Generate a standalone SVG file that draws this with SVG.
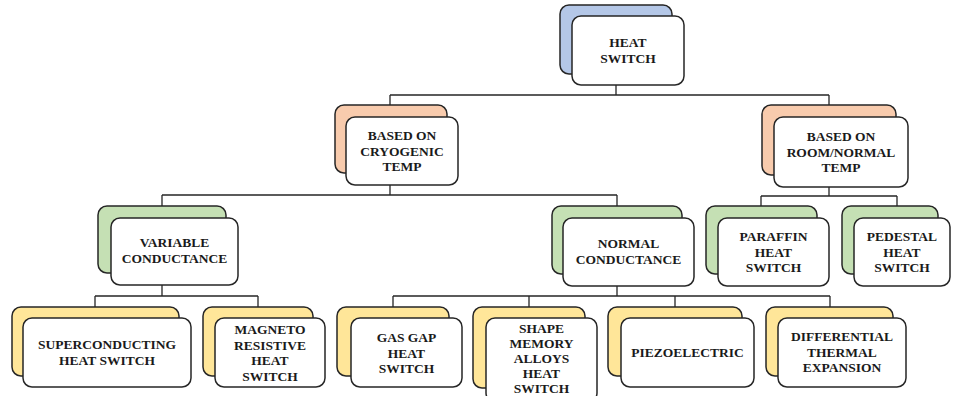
<svg xmlns="http://www.w3.org/2000/svg" width="953" height="396" viewBox="0 0 953 396">
<style>
.n rect{stroke:#262626;stroke-width:1.5}
.f{fill:#fff}
.b{fill:#b4c7e7}
.o{fill:#f8cbad}
.g{fill:#c5e0b4}
.y{fill:#ffe699}
.t{font-weight:bold;font-size:13.5px;fill:#1a1a1a;text-anchor:middle}
.c path{fill:none;stroke:#262626;stroke-width:1.3}
</style>
<rect width="953" height="396" fill="#fff"/>
<g class="c" id="connectors">
<path d="M616 85V95M390 95H829M390 95V105M829 95V105"/>
<path d="M390 185V195M162 195H617M162 195V206M617 195V206"/>
<path d="M829 187V196M761 196H897M761 196V206M897 196V206"/>
<path d="M162 285V296M95 296H258M95 296V307M258 296V307"/>
<path d="M617 286V296M393 296H830M393 296V307M529 296V307M675 296V307M830 296V307"/>
</g>
<g class="t" font-family="Liberation Serif, DejaVu Serif, serif">
<g class="n" id="heat-switch"><rect class="b" x="560" y="5" width="112" height="69" rx="9"/><rect class="f" x="572" y="16" width="112" height="69" rx="9"/><text><tspan x="628" y="47">HEAT</tspan><tspan x="628" y="63">SWITCH</tspan></text></g>
<g class="n" id="cryogenic"><rect class="o" x="335" y="105" width="112" height="68" rx="9"/><rect class="f" x="346" y="117" width="112" height="68" rx="9"/><text><tspan x="402" y="140">BASED ON</tspan><tspan x="402" y="155.5">CRYOGENIC</tspan><tspan x="402" y="171">TEMP</tspan></text></g>
<g class="n" id="room-temp"><rect class="o" x="762" y="105" width="134" height="70" rx="9"/><rect class="f" x="774" y="117" width="134" height="70" rx="9"/><text><tspan x="841" y="141">BASED ON</tspan><tspan x="841" y="156.5">ROOM/NORMAL</tspan><tspan x="841" y="172">TEMP</tspan></text></g>
<g class="n" id="variable"><rect class="g" x="98" y="206" width="128" height="67" rx="9"/><rect class="f" x="111" y="218" width="127" height="67" rx="9"/><text><tspan x="174.5" y="247">VARIABLE</tspan><tspan x="174.5" y="263">CONDUCTANCE</tspan></text></g>
<g class="n" id="normal"><rect class="g" x="552" y="206" width="130" height="68" rx="9"/><rect class="f" x="563" y="218" width="131" height="68" rx="9"/><text><tspan x="628.5" y="248">NORMAL</tspan><tspan x="628.5" y="264">CONDUCTANCE</tspan></text></g>
<g class="n" id="paraffin"><rect class="g" x="706" y="206" width="111" height="68" rx="9"/><rect class="f" x="718" y="218" width="111" height="68" rx="9"/><text><tspan x="773.5" y="241">PARAFFIN</tspan><tspan x="773.5" y="256.5">HEAT</tspan><tspan x="773.5" y="272">SWITCH</tspan></text></g>
<g class="n" id="pedestal"><rect class="g" x="842" y="206" width="96" height="68" rx="9"/><rect class="f" x="854" y="218" width="96" height="68" rx="9"/><text><tspan x="902" y="241">PEDESTAL</tspan><tspan x="902" y="256.5">HEAT</tspan><tspan x="902" y="272">SWITCH</tspan></text></g>
<g class="n" id="superconducting"><rect class="y" x="12" y="307" width="167" height="69" rx="9"/><rect class="f" x="23" y="318" width="168" height="69" rx="9"/><text><tspan x="107" y="349">SUPERCONDUCTING</tspan><tspan x="107" y="365">HEAT SWITCH</tspan></text></g>
<g class="n" id="magneto"><rect class="y" x="203" y="307" width="110" height="69" rx="9"/><rect class="f" x="215" y="318" width="110" height="69" rx="9"/><text><tspan x="270" y="334">MAGNETO</tspan><tspan x="270" y="349.5">RESISTIVE</tspan><tspan x="270" y="365">HEAT</tspan><tspan x="270" y="380.5">SWITCH</tspan></text></g>
<g class="n" id="gas-gap"><rect class="y" x="337" y="307" width="112" height="69" rx="9"/><rect class="f" x="351" y="318" width="111" height="69" rx="9"/><text><tspan x="406.5" y="342">GAS GAP</tspan><tspan x="406.5" y="357.5">HEAT</tspan><tspan x="406.5" y="373">SWITCH</tspan></text></g>
<g class="n" id="shape-memory"><rect class="y" x="473" y="307" width="112" height="81" rx="9"/><rect class="f" x="486" y="318" width="111" height="84" rx="9"/><text><tspan x="541.5" y="333">SHAPE</tspan><tspan x="541.5" y="348">MEMORY</tspan><tspan x="541.5" y="363">ALLOYS</tspan><tspan x="541.5" y="378">HEAT</tspan><tspan x="541.5" y="393">SWITCH</tspan></text></g>
<g class="n" id="piezoelectric"><rect class="y" x="608" y="307" width="134" height="69" rx="9"/><rect class="f" x="621" y="318" width="133" height="69" rx="9"/><text x="687.5" y="357">PIEZOELECTRIC</text></g>
<g class="n" id="differential"><rect class="y" x="766" y="307" width="127" height="69" rx="9"/><rect class="f" x="778" y="318" width="128" height="69" rx="9"/><text><tspan x="842" y="341">DIFFERENTIAL</tspan><tspan x="842" y="356.5">THERMAL</tspan><tspan x="842" y="372">EXPANSION</tspan></text></g>
</g>
</svg>
